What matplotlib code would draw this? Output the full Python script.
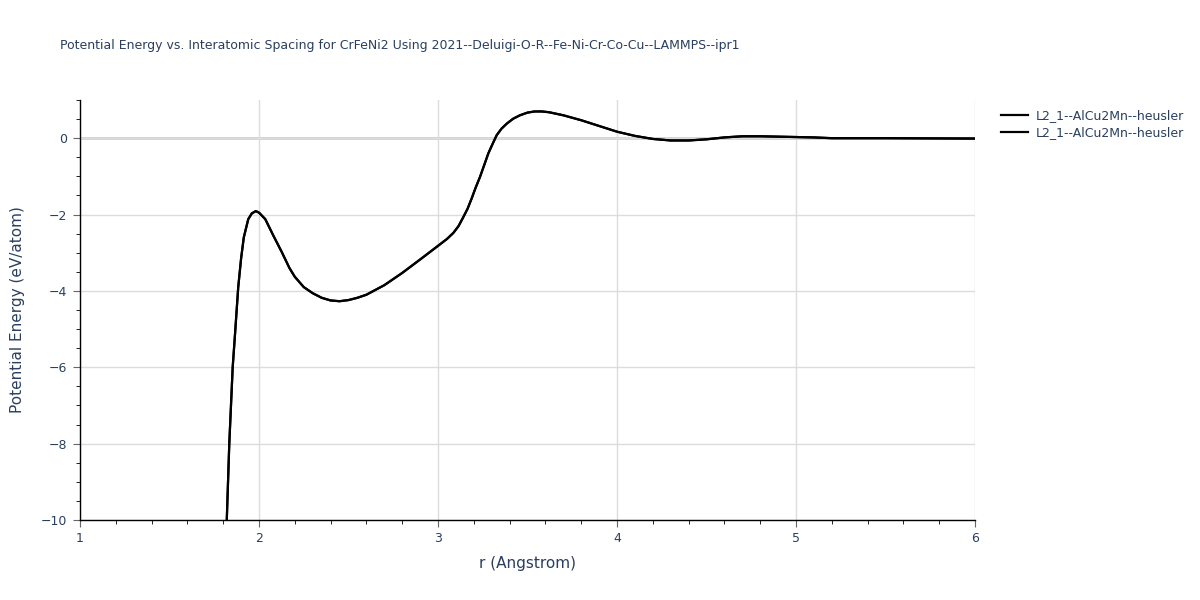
import numpy as np
import matplotlib
matplotlib.use("Agg")
import matplotlib.pyplot as plt
from matplotlib.ticker import MultipleLocator

# values
r = [1.82, 1.834, 1.853, 1.868, 1.884, 1.90, 1.915, 1.94, 1.96, 1.982,
     2.00, 2.035, 2.08, 2.127, 2.17, 2.20, 2.25, 2.30, 2.35, 2.40,
     2.45, 2.50, 2.55, 2.60, 2.70, 2.80, 2.905, 3.00, 3.05, 3.086,
     3.115, 3.14, 3.165, 3.188, 3.21, 3.235, 3.26, 3.281, 3.305, 3.328,
     3.355, 3.384, 3.42, 3.458, 3.50, 3.54, 3.58, 3.62, 3.70, 3.80,
     3.90, 4.00, 4.10, 4.20, 4.30, 4.40, 4.50, 4.60, 4.70, 4.80,
     4.90, 5.00, 5.10, 5.20, 5.50, 6.00]
energy = [-10.0, -8.0, -6.0, -5.0, -3.9, -3.15, -2.6, -2.12, -1.97, -1.91,
          -1.95, -2.12, -2.55, -2.98, -3.4, -3.63, -3.9, -4.06, -4.18, -4.25,
          -4.27, -4.24, -4.18, -4.10, -3.85, -3.53, -3.16, -2.82, -2.64, -2.48,
          -2.30, -2.08, -1.85, -1.58, -1.30, -1.01, -0.68, -0.40, -0.15, 0.08,
          0.25, 0.38, 0.51, 0.60, 0.67, 0.70, 0.70, 0.68, 0.60, 0.47,
          0.32, 0.17, 0.06, -0.02, -0.06, -0.06, -0.03, 0.02, 0.05, 0.05,
          0.04, 0.03, 0.02, 0.0, 0.0, -0.01]
labels = ["L2_1--AlCu2Mn--heusler", "L2_1--AlCu2Mn--heusler"]
title = "Potential Energy vs. Interatomic Spacing for CrFeNi2 Using 2021--Deluigi-O-R--Fe-Ni-Cr-Co-Cu--LAMMPS--ipr1"

txt = "#2a3f5f"
plt.rcParams['font.family'] = ['DejaVu Sans']

fig = plt.figure(figsize=(12, 6), dpi=100)
ax = fig.add_axes([80/1200, 80/600, 895/1200, 420/600])

for lab in labels:
    ax.plot(r, energy, color="black", lw=1.6, label=lab, zorder=3,
            solid_joinstyle="round")

ax.set_xlim(1, 6)
ax.set_ylim(-10, 1)
ax.xaxis.set_major_locator(MultipleLocator(1))
ax.xaxis.set_minor_locator(MultipleLocator(0.2))
ax.yaxis.set_major_locator(MultipleLocator(2))
ax.yaxis.set_minor_locator(MultipleLocator(0.5))
ax.grid(True, which="major", color="#dcdcdc", lw=1, zorder=0)
ax.axhline(0, color="#cfcfcf", lw=2, zorder=1)

for s in ["top", "right"]:
    ax.spines[s].set_visible(False)
for s in ["left", "bottom"]:
    ax.spines[s].set_color("black")
    ax.spines[s].set_linewidth(1)

ax.tick_params(which="major", direction="out", length=5, color="#666666",
               labelsize=9, labelcolor=txt, pad=4)
ax.tick_params(which="minor", direction="out", length=3, color="black")

ax.set_xlabel("r (Angstrom)", fontsize=11, color=txt)
ax.set_ylabel("Potential Energy (eV/atom)", fontsize=11, color=txt)
ax.xaxis.set_label_coords(0.5, -0.085)
ax.yaxis.set_label_coords(-0.062, 0.5)

fig.text(60/1200, 1 - 45/600, title, fontsize=9, color=txt, va="center", ha="left")

ax.legend(loc="upper left", bbox_to_anchor=(1.023, 0.99), frameon=False,
          fontsize=9, labelcolor=txt, handlelength=2.2, handletextpad=0.6,
          labelspacing=0.3, borderaxespad=0)

fig.savefig("out.png", dpi=100)
